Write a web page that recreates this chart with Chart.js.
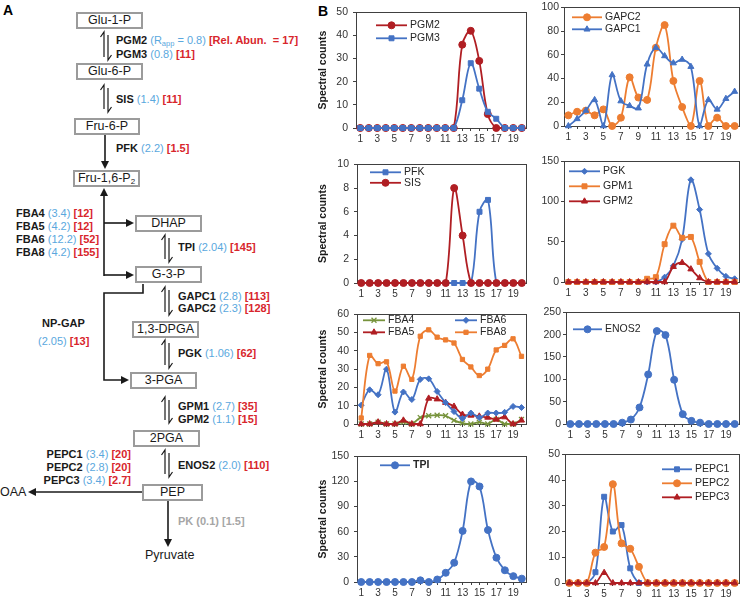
<!DOCTYPE html>
<html>
<head>
<meta charset="utf-8">
<script src="https://cdn.jsdelivr.net/npm/chart.js@4.4.1/dist/chart.umd.min.js"></script>
<style>
html, body { margin: 0; padding: 0; background: #fff; }
body { width: 742px; height: 598px; position: relative; overflow: hidden; font-family: "Liberation Sans", Arial, sans-serif; }
.t { position: absolute; white-space: nowrap; font-size: 11px; line-height: 12px; transform: translateY(-50%); color: #1a1a1a; font-weight: bold; }
.bl { color: #5AA8DE; font-weight: normal; }
.rd { color: #D8262C; }
.gr { color: #A6A6A6; }
.t sub { font-size: 7.5px; vertical-align: -2px; }
.box { position: absolute; box-sizing: border-box; height: 17px; line-height: 13px; border: 2px solid #9b9b9b; font-size: 12.5px; text-align: center; color: #1a1a1a; }
.box sub { font-size: 8px; vertical-align: -2px; line-height: 0; }
.pl { position: absolute; font-size: 12.5px; color: #1a1a1a; white-space: nowrap; transform: translateY(-50%); }
.pan { position: absolute; font-weight: bold; font-size: 14px; line-height: 14px; }
canvas { position: absolute; }
</style>
</head>
<body>
<div class="pan" style="left:3px;top:3px">A</div>
<div class="pan" style="left:318px;top:4px">B</div>
<svg id="arrows" width="300" height="598" style="position:absolute;left:0;top:0"></svg>
<div id="panelA"></div>

<script>
// fractions 1..20
const fractions = ['1','2','3','4','5','6','7','8','9','10','11','12','13','14','15','16','17','18','19','20'];

const pgm2  = [0,0,0,0,0,0,0,0,0,0,0,0,36,42,29,6,0,0,0,0];
const pgm3  = [0,0,0,0,0,0,0,0,0,0,0,0,12,28,17,7,4,0,0,0];
const gapc2 = [9,12,13,9,14,0,7,41,24,22,66,85,38,16,0,38,0,7,0,0];
const gapc1 = [0,6,13,22,0,43,21,17,15,52,66,59,53,56,50,0,22,14,23,29];
const pfk   = [0,0,0,0,0,0,0,0,0,0,0,0,0,0,6,7,0,0,0,0];
const sis   = [0,0,0,0,0,0,0,0,0,0,0,8,4,0,0,0,0,0,0,0];
const pgk   = [0,0,0,0,0,0,0,0,0,0,0,6,20,53,127,90,35,17,7,4];
const gpm1  = [0,0,0,0,0,0,0,0,0,4,6,47,70,55,56,25,0,0,0,0];
const gpm2  = [0,0,0,0,0,0,0,0,0,0,0,0,19,24,16,5,0,0,0,0];
const fba4  = [0,0,1,0,0,1,0,3.5,4.5,4.8,4.5,2,0.5,0,1,0,2.5,0,0,2.5];
const fba5  = [0,0,1,0,0,2,0,0,14,13.6,11.7,9.6,5.2,4.7,4.2,3.6,2.5,3.8,0,2];
const fba6  = [10.3,18.7,16,30,6.5,17.5,13.4,24.4,24.7,17.8,11.7,6.8,3,6,3.5,6,6,6.4,9.6,9];
const fba8  = [3.3,37.5,33,34,18,31.6,24.4,48,51.5,47.5,46,44.3,35.3,31.2,26.5,30,40.5,43,46.6,37];
const enos2 = [0,0,0,0,0,0,3,10,37,111,208,199,99,22,7,3,0,0,0,0];
const tpi   = [0,0,0,0,0,0,0,2,0,3,11,23,61,120,114,62,29,14,7,4];
const pepc1 = [0,0,0,4.2,33.5,20,22.5,5.7,0,0,0,0,0,0,0,0,0,0,0,0];
const pepc2 = [0,0,0,11.8,14,38.4,15.4,13.3,6.3,0,0,0,0,0,0,0,0,0,0,0];
const pepc3 = [0,0,0,0,4,0,0,0,0,0,0,0,0,0,0,0,0,0,0,0];

// ---------- panel A (pathway diagram) ----------
const boxes = [
  ['Glu-1-P', 76, 12, 67], ['Glu-6-P', 76, 63, 67], ['Fru-6-P', 74, 118, 66],
  ['Fru-1,6-P<sub>2</sub>', 73, 170, 67], ['DHAP', 135, 215, 67], ['G-3-P', 135, 266, 67],
  ['1,3-DPGA', 132, 321, 67], ['3-PGA', 130, 372, 67], ['2PGA', 133, 430, 67], ['PEP', 142, 484, 61]
];
const BL = s => `<span class="bl">${s}</span>`, RD = s => `<span class="rd">${s}</span>`;
const labels = [
  [116, 42, `PGM2 ${BL('(R<sub>app</sub> = 0.8)')} ${RD('[Rel. Abun. &nbsp;= 17]')}`],
  [116, 54, `PGM3 ${BL('(0.8)')} ${RD('[11]')}`],
  [116, 99, `SIS ${BL('(1.4)')} ${RD('[11]')}`],
  [116, 148, `PFK ${BL('(2.2)')} ${RD('[1.5]')}`],
  [16, 213, `FBA4 ${BL('(3.4)')} ${RD('[12]')}`],
  [16, 226, `FBA5 ${BL('(4.2)')} ${RD('[12]')}`],
  [16, 239, `FBA6 ${BL('(12.2)')} ${RD('[52]')}`],
  [16, 252, `FBA8 ${BL('(4.2)')} ${RD('[155]')}`],
  [178, 247, `TPI ${BL('(2.04)')} ${RD('[145]')}`],
  [178, 296, `GAPC1 ${BL('(2.8)')} ${RD('[113]')}`],
  [178, 308, `GAPC2 ${BL('(2.3)')} ${RD('[128]')}`],
  [42, 323, `NP-GAP`],
  [38, 341, `${BL('(2.05)')} ${RD('[13]')}`],
  [178, 353, `PGK ${BL('(1.06)')} ${RD('[62]')}`],
  [178, 406, `GPM1 ${BL('(2.7)')} ${RD('[35]')}`],
  [178, 419, `GPM2 ${BL('(1.1)')} ${RD('[15]')}`],
  [178, 465, `ENOS2 ${BL('(2.0)')} ${RD('[110]')}`],
  [178, 521, `<span class="gr">PK (0.1) [1.5]</span>`]
];
const rightLabels = [
  [131, 454, `PEPC1 ${BL('(3.4)')} ${RD('[20]')}`],
  [131, 467, `PEPC2 ${BL('(2.8)')} ${RD('[20]')}`],
  [131, 480, `PEPC3 ${BL('(3.4)')} ${RD('[2.7]')}`]
];
let html = '';
boxes.forEach(([n, x, y, w]) => { html += `<div class="box" style="left:${x}px;top:${y}px;width:${w}px">${n}</div>`; });
labels.forEach(([x, y, s]) => { html += `<div class="t" style="left:${x}px;top:${y}px">${s}</div>`; });
rightLabels.forEach(([x, y, s]) => { html += `<div class="t" style="right:${742 - x}px;top:${y}px">${s}</div>`; });
html += `<div class="pl" style="left:0px;top:492px">OAA</div>`;
html += `<div class="pl" style="left:145px;top:555px">Pyruvate</div>`;
document.getElementById('panelA').innerHTML = html;

let svg = '';
function poly(pts, w) {
  svg += `<polyline points="${pts.map(p => p.join(',')).join(' ')}" fill="none" stroke="#1a1a1a" stroke-width="${w || 1.6}"/>`;
}
function head(x, y, dir) {
  const L = 8, W = 4;
  let p;
  if (dir === 'd') p = [[x, y], [x - W, y - L], [x + W, y - L]];
  if (dir === 'u') p = [[x, y], [x - W, y + L], [x + W, y + L]];
  if (dir === 'r') p = [[x, y], [x - L, y - W], [x - L, y + W]];
  if (dir === 'l') p = [[x, y], [x + L, y - W], [x + L, y + W]];
  svg += `<polygon points="${p.map(q => q.join(',')).join(' ')}" fill="#1a1a1a"/>`;
}
function harpoon(cx, y1, y2) {
  poly([[cx - 5.5, y1 + 5], [cx - 2, y1], [cx - 2, y2 - 3]], 1.2);
  poly([[cx + 2, y1 + 3], [cx + 2, y2], [cx + 5.5, y2 - 5]], 1.2);
}
[[106, 32, 60], [106, 85, 112], [167, 235, 262], [167, 287, 315], [167, 340, 368], [167, 397, 423], [167, 450, 477]]
  .forEach(h => harpoon(...h));
poly([[105, 135], [105, 162]]); head(105, 169, 'd');
poly([[104, 276], [104, 195]]); head(104, 188, 'u');
poly([[104, 223], [128, 223]]); head(134, 223, 'r');
poly([[104, 275], [128, 275]]); head(134, 275, 'r');
poly([[143, 284], [143, 293], [104, 293], [104, 380], [123, 380]]); head(129, 380, 'r');
poly([[142, 492], [35, 492]]); head(28, 492, 'l');
poly([[168, 501], [168, 540]]); head(168, 547, 'd');
document.getElementById('arrows').innerHTML = svg;

// ---------- panel B (Chart.js) ----------
Chart.defaults.font.family = '"Liberation Sans", Arial, sans-serif';
Chart.defaults.color = '#333';

const C = { blue: '#4472C4', orange: '#ED7D31', red: '#B01E23', olive: '#77933C' };

function ds(label, data, color, style, r, order) {
  return {
    label, data, order,
    borderColor: color, backgroundColor: color,
    pointStyle: style, pointRadius: r, pointBorderWidth: style === 'crossRot' ? 1.3 : 1,
    borderWidth: 1.8, tension: 0.35, clip: false
  };
}

const panels = [
  { L: 356, R: 527, T: 7, B: 128, max: 50, step: 10, title: true,
    sets: [ds('PGM2', pgm2, C.red, 'circle', 3.5, 2), ds('PGM3', pgm3, C.blue, 'rect', 3.5, 1)],
    leg: { dx: 20, dy: 13, row: 13, len: 31 } },
  { L: 564, R: 740, T: 5, B: 126, max: 100, step: 20,
    sets: [ds('GAPC2', gapc2, C.orange, 'circle', 3.5, 2), ds('GAPC1', gapc1, C.blue, 'triangle', 3.5, 1)],
    leg: { dx: 8, dy: 10, row: 12, len: 30 } },
  { L: 357, R: 527, T: 159, B: 283, max: 10, step: 2, title: true,
    sets: [ds('PFK', pfk, C.blue, 'rect', 3.5, 2), ds('SIS', sis, C.red, 'circle', 3.5, 1)],
    leg: { dx: 13, dy: 8, row: 10.5, len: 31 } },
  { L: 564, R: 740, T: 159, B: 282, max: 150, step: 50,
    sets: [ds('PGK', pgk, C.blue, 'rectRot', 3, 3), ds('GPM1', gpm1, C.orange, 'rect', 3.5, 2), ds('GPM2', gpm2, C.red, 'triangle', 3.5, 1)],
    leg: { dx: 5, dy: 10, row: 15, len: 31 } },
  { L: 357, R: 527, T: 309, B: 424, max: 60, step: 10, title: true,
    sets: [ds('FBA4', fba4, C.olive, 'crossRot', 3.5, 4), ds('FBA5', fba5, C.red, 'triangle', 3.5, 3),
           ds('FBA6', fba6, C.blue, 'rectRot', 3, 2), ds('FBA8', fba8, C.orange, 'rect', 3, 1)],
    leg: { dx: 6, dy: 6, row: 12, len: 22, perCol: 2, colGap: 92 } },
  { L: 566, R: 740, T: 310, B: 424, max: 250, step: 50,
    sets: [ds('ENOS2', enos2, C.blue, 'circle', 3.5, 1)],
    leg: { dx: 7, dy: 17, row: 12, len: 29 } },
  { L: 357, R: 527, T: 451, B: 582, max: 150, step: 30, title: true,
    sets: [ds('TPI', tpi, C.blue, 'circle', 3.5, 1)],
    leg: { dx: 23, dy: 9, row: 12, len: 30, bold: true } },
  { L: 565, R: 740, T: 452, B: 583, max: 50, step: 10,
    sets: [ds('PEPC1', pepc1, C.blue, 'rect', 3.5, 3), ds('PEPC2', pepc2, C.orange, 'circle', 3.5, 2), ds('PEPC3', pepc3, C.red, 'triangle', 3.5, 1)],
    leg: { dx: 97, dy: 15, row: 14, len: 30 } }
];

// plot frame under the marks, legend (line + marker) on top
const frameLegend = {
  id: 'frameLegend',
  beforeDatasetsDraw(chart) {
    const { ctx, chartArea: a } = chart;
    ctx.save();
    ctx.strokeStyle = '#404040';
    ctx.lineWidth = 1;
    ctx.strokeRect(Math.round(a.left) + 0.5, Math.round(a.top) + 0.5, Math.round(a.right - a.left), Math.round(a.bottom - a.top));
    ctx.restore();
  },
  afterDatasetsDraw(chart, args, opts) {
    const { ctx, chartArea: a } = chart;
    const lg = opts.leg;
    if (!lg) return;
    ctx.save();
    chart.data.datasets.forEach((d, i) => {
      const col = lg.perCol ? Math.floor(i / lg.perCol) : 0;
      const row = lg.perCol ? i % lg.perCol : i;
      const x = a.left + lg.dx + col * (lg.colGap || 0);
      const y = a.top + lg.dy + row * lg.row;
      ctx.strokeStyle = d.borderColor;
      ctx.lineWidth = d.borderWidth;
      ctx.beginPath(); ctx.moveTo(x, y); ctx.lineTo(x + lg.len, y); ctx.stroke();
      ctx.fillStyle = d.backgroundColor;
      ctx.lineWidth = d.pointBorderWidth;
      Chart.helpers.drawPoint(ctx, { pointStyle: d.pointStyle, radius: d.pointRadius, rotation: 0, borderWidth: d.pointBorderWidth }, x + lg.len / 2, y);
      ctx.fillStyle = '#262626';
      ctx.font = (lg.bold ? 'bold ' : '') + '10.5px "Liberation Sans", Arial, sans-serif';
      ctx.textBaseline = 'middle';
      ctx.textAlign = 'left';
      ctx.fillText(d.label, x + lg.len + 3, y);
    });
    ctx.restore();
  }
};

const padTop = 6, padRight = 4, xH = 16;
panels.forEach(p => {
  const left = p.title ? 317 : p.L - 30;
  const yW = p.L - left;
  const cv = document.createElement('canvas');
  cv.width = p.R - left + padRight;
  cv.height = p.B - p.T + padTop + xH;
  cv.style.left = left + 'px';
  cv.style.top = (p.T - padTop) + 'px';
  document.body.appendChild(cv);

  new Chart(cv, {
    type: 'line',
    data: { labels: fractions, datasets: p.sets },
    options: {
      responsive: false,
      animation: false,
      layout: { padding: { top: padTop, right: padRight, left: 0, bottom: 0 } },
      plugins: { legend: { display: false }, tooltip: { enabled: false }, frameLegend: { leg: p.leg } },
      scales: {
        x: {
          offset: true,
          grid: { drawOnChartArea: false, tickLength: 3, color: '#404040' },
          border: { color: '#404040' },
          ticks: {
            autoSkip: false, maxRotation: 0, padding: 2, color: '#333',
            font: { size: 10 },
            callback: (v, i) => (i % 2 === 0 ? fractions[i] : '')
          },
          afterFit: s => { s.height = xH; }
        },
        y: {
          min: 0, max: p.max,
          grid: { drawOnChartArea: false, tickLength: 3, color: '#404040' },
          border: { color: '#404040' },
          ticks: { stepSize: p.step, padding: p.title ? 5 : 2, color: '#333', font: { size: 10.5 } },
          title: p.title ? { display: true, text: 'Spectral counts', color: '#1a1a1a', font: { size: 10.5, weight: 'bold' }, padding: { top: 0, bottom: 0 } } : { display: false },
          afterFit: s => { s.width = yW; }
        }
      }
    },
    plugins: [frameLegend]
  });
});
</script>
</body>
</html>
